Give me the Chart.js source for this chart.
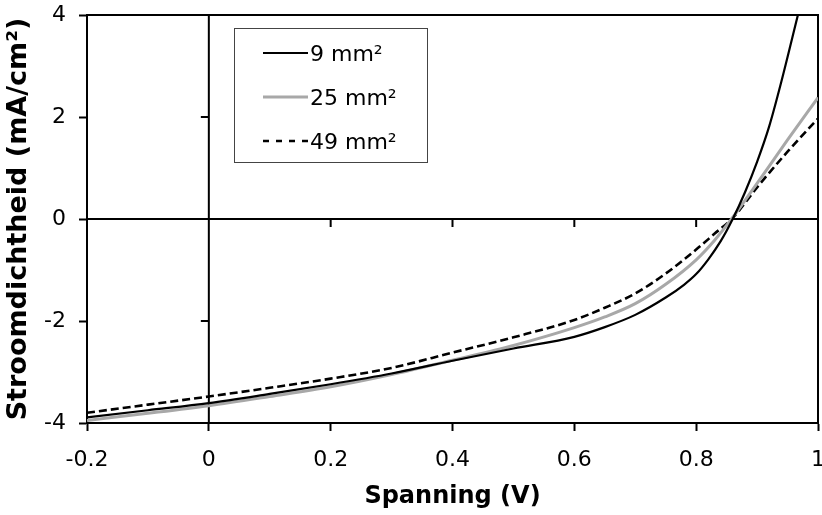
<!DOCTYPE html>
<html>
<head>
<meta charset="utf-8">
<script src="https://cdn.jsdelivr.net/npm/chart.js@4.4.1/dist/chart.umd.min.js"></script>
<style>
  html, body { margin: 0; padding: 0; background: #ffffff; }
  #wrap { width: 822px; height: 515px; position: relative; }
</style>
</head>
<body>
<div id="wrap"><canvas id="c" width="822" height="515"></canvas></div>
<script>
// ---- data ----
const seriesLabels = ['9 mm²', '25 mm²', '49 mm²'];

const v9  = [-0.2, -0.1, 0, 0.1, 0.2, 0.3, 0.4, 0.5, 0.6, 0.65, 0.7, 0.75, 0.78, 0.8, 0.82, 0.84, 0.86, 0.88, 0.9, 0.92, 0.94, 0.967];
const j9  = [-3.89, -3.75, -3.61, -3.43, -3.24, -3.03, -2.78, -2.54, -2.31, -2.12, -1.88, -1.54, -1.29, -1.08, -0.79, -0.44, 0.0, 0.52, 1.12, 1.82, 2.70, 4.0];

const v25 = [-0.2, -0.1, 0, 0.1, 0.2, 0.3, 0.4, 0.5, 0.6, 0.65, 0.7, 0.75, 0.8, 0.83, 0.86, 0.9, 0.95, 1.0];
const j25 = [-3.95, -3.81, -3.66, -3.48, -3.29, -3.05, -2.77, -2.48, -2.13, -1.92, -1.66, -1.28, -0.80, -0.42, 0.03, 0.70, 1.55, 2.38];

const v49 = [-0.2, -0.1, 0, 0.1, 0.2, 0.3, 0.4, 0.5, 0.6, 0.65, 0.7, 0.75, 0.8, 0.83, 0.86, 0.9, 0.95, 1.0];
const j49 = [-3.80, -3.64, -3.48, -3.31, -3.13, -2.92, -2.62, -2.32, -1.98, -1.74, -1.46, -1.07, -0.60, -0.29, 0.02, 0.62, 1.32, 1.97];

const xTicks = [-0.2, 0, 0.2, 0.4, 0.6, 0.8, 1];
const yTicks = [-4, -2, 0, 2, 4];

const xTitle = 'Spanning (V)';
const yTitle = 'Stroomdichtheid (mA/cm²)';

// ---- helpers ----
const toPts = (xs, ys) => xs.map((x, i) => ({ x: x, y: ys[i] }));
const FONT = "'DejaVu Sans', 'Liberation Sans', sans-serif";

// frame, zero axes with inner ticks, and boxed legend
const decorations = {
  id: 'decorations',
  beforeDatasetsDraw(chart) {
    const { ctx, chartArea: a, scales } = chart;
    const xs = scales.x, ys = scales.y;
    ctx.save();
    ctx.strokeStyle = '#000';
    ctx.lineWidth = 2;
    ctx.strokeRect(a.left, a.top, a.right - a.left, a.bottom - a.top);
    const x0 = xs.getPixelForValue(0);
    const y0 = ys.getPixelForValue(0);
    ctx.beginPath();
    ctx.moveTo(x0, a.top); ctx.lineTo(x0, a.bottom);
    ctx.moveTo(a.left, y0); ctx.lineTo(a.right, y0);
    xTicks.forEach(v => {
      const px = xs.getPixelForValue(v);
      ctx.moveTo(px, y0); ctx.lineTo(px, y0 + 8);
    });
    yTicks.forEach(v => {
      const py = ys.getPixelForValue(v);
      ctx.moveTo(x0, py); ctx.lineTo(x0 - 8, py);
    });
    ctx.stroke();
    ctx.restore();
  },
  afterDatasetsDraw(chart) {
    const { ctx, chartArea: a } = chart;
    const bx = a.left + 147, by = a.top + 13, bw = 193, bh = 134;
    ctx.save();
    ctx.fillStyle = '#fff';
    ctx.fillRect(bx, by, bw, bh);
    ctx.strokeStyle = '#444';
    ctx.lineWidth = 1;
    ctx.strokeRect(bx + 0.5, by + 0.5, bw, bh);
    const rows = [by + 25, by + 69, by + 113];
    chart.data.datasets.forEach((ds, i) => {
      const yy = rows[i];
      ctx.beginPath();
      ctx.strokeStyle = ds.borderColor;
      ctx.lineWidth = ds.borderWidth;
      ctx.setLineDash(i === 2 ? [6, 7] : []);
      ctx.moveTo(bx + 29, yy);
      ctx.lineTo(bx + 74, yy);
      ctx.stroke();
      ctx.setLineDash([]);
      ctx.fillStyle = '#000';
      ctx.font = '22px ' + FONT;
      ctx.textBaseline = 'middle';
      ctx.textAlign = 'left';
      ctx.fillText(ds.label, bx + 76, yy + 2);
    });
    ctx.restore();
  }
};

new Chart(document.getElementById('c'), {
  type: 'line',
  data: {
    datasets: [
      { label: seriesLabels[0], data: toPts(v9, j9), borderColor: '#000000', borderWidth: 2.2, pointRadius: 0, cubicInterpolationMode: 'monotone', fill: false },
      { label: seriesLabels[1], data: toPts(v25, j25), borderColor: '#a8a8a8', borderWidth: 3, pointRadius: 0, cubicInterpolationMode: 'monotone', fill: false },
      { label: seriesLabels[2], data: toPts(v49, j49), borderColor: '#000000', borderWidth: 2.6, borderDash: [8, 4], pointRadius: 0, cubicInterpolationMode: 'monotone', fill: false }
    ]
  },
  options: {
    responsive: false,
    animation: false,
    devicePixelRatio: 1,
    layout: { padding: { left: 0, right: 4, top: 15, bottom: 0 } },
    plugins: { legend: { display: false }, tooltip: { enabled: false } },
    scales: {
      x: {
        type: 'linear', min: -0.2, max: 1,
        afterBuildTicks: s => { s.ticks = xTicks.map(v => ({ value: v })); },
        afterFit: s => { s.height = 92; s.paddingLeft = 0; s.paddingRight = 0; },
        grid: { display: true, drawOnChartArea: false, drawTicks: true, tickLength: 8, tickWidth: 2, tickColor: '#000' },
        border: { display: true, color: '#000', width: 2 },
        ticks: { color: '#000', font: { family: FONT, size: 22 }, padding: 16, maxRotation: 0,
                 callback: v => String(Number(v.toFixed(1))) },
        title: { display: true, text: xTitle, color: '#000', font: { family: FONT, size: 24, weight: 'bold' }, padding: { top: 0, bottom: 4 } }
      },
      y: {
        type: 'linear', min: -4, max: 4,
        afterBuildTicks: s => { s.ticks = yTicks.map(v => ({ value: v })); },
        afterFit: s => { s.width = 87; s.paddingTop = 0; s.paddingBottom = 0; },
        grid: { display: true, drawOnChartArea: false, drawTicks: true, tickLength: 8, tickWidth: 2, tickColor: '#000' },
        border: { display: true, color: '#000', width: 2 },
        ticks: { color: '#000', font: { family: FONT, size: 22 }, padding: 13,
                 callback: v => String(v) },
        title: { display: true, text: yTitle, color: '#000', font: { family: FONT, size: 27, weight: 'bold' }, padding: { top: 3, bottom: 0 } }
      }
    }
  },
  plugins: [decorations]
});
</script>
</body>
</html>
